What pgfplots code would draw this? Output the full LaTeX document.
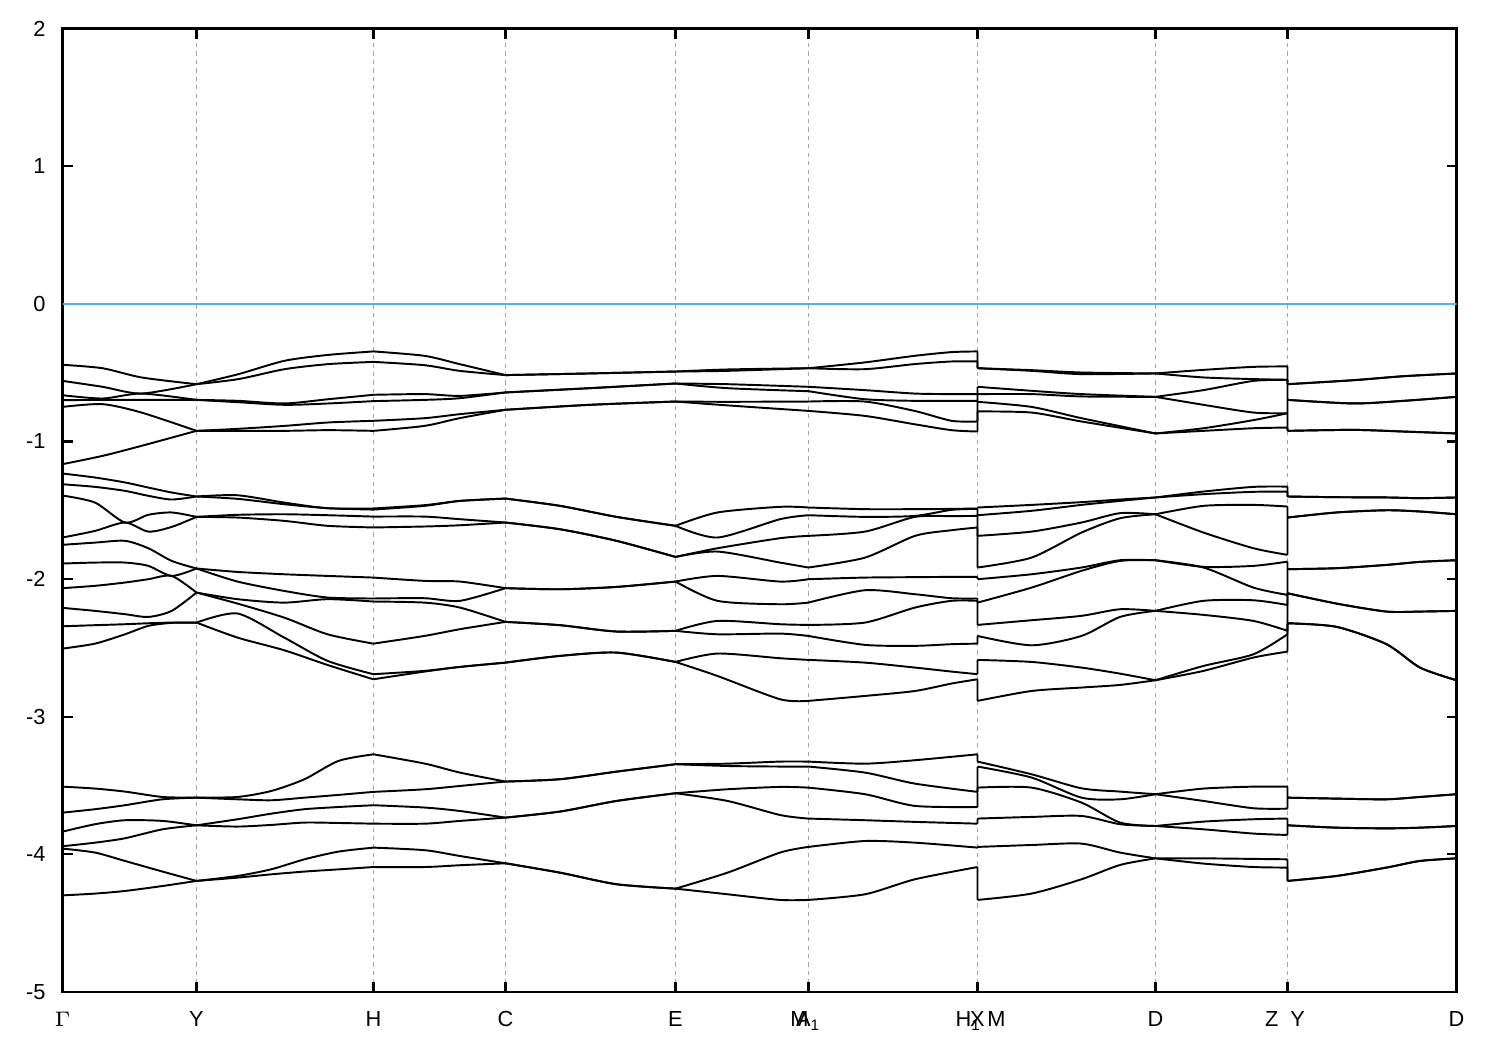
\documentclass[border=0pt]{standalone}
\usepackage{fontspec}
\setmainfont{Liberation Sans}
\usepackage{pgfplots}
\pgfplotsset{compat=1.18}
\usepackage{pgfplotstable}
\definecolor{zeroline}{RGB}{86,180,233}

% band energies (eV); x = distance along the k-path, in plot units
% rows of nan break the curve at the high-symmetry points
\pgfplotstableread{
x b1 b2 b3 b4 b5 b6
0 -0.443 -0.560 -0.664 -0.700 -0.749 -1.165
40 -0.468 -0.603 -0.688 -0.698 -0.729 -1.105
79 -0.535 -0.652 -0.652 -0.698 -0.790 -1.032
134 -0.584 -0.584 -0.698 -0.698 -0.923 -0.923
nan nan nan nan nan nan nan
134 -0.584 -0.584 -0.698 -0.698 -0.923 -0.923
176 -0.511 -0.547 -0.705 -0.715 -0.908 -0.923
222 -0.414 -0.475 -0.724 -0.734 -0.887 -0.923
266 -0.371 -0.438 -0.693 -0.724 -0.862 -0.918
311 -0.346 -0.422 -0.661 -0.707 -0.850 -0.923
nan nan nan nan nan nan nan
311 -0.346 -0.422 -0.661 -0.707 -0.850 -0.923
362 -0.378 -0.446 -0.656 -0.698 -0.831 -0.887
397 -0.438 -0.487 -0.669 -0.686 -0.802 -0.831
443 -0.518 -0.518 -0.644 -0.644 -0.770 -0.770
nan nan nan nan nan nan nan
443 -0.518 -0.518 -0.644 -0.644 -0.770 -0.770
527 -0.506 -0.506 -0.613 -0.613 -0.734 -0.734
613 -0.492 -0.492 -0.579 -0.579 -0.710 -0.710
nan nan nan nan nan nan nan
613 -0.492 -0.492 -0.579 -0.579 -0.710 -0.710
665 -0.477 -0.487 -0.584 -0.613 -0.712 -0.738
746 -0.468 -0.468 -0.603 -0.635 -0.710 -0.778
nan nan nan nan nan nan nan
746 -0.468 -0.468 -0.603 -0.635 -0.710 -0.778
802 -0.426 -0.475 -0.627 -0.693 -0.710 -0.814
852 -0.378 -0.438 -0.652 -0.705 -0.778 -0.875
889 -0.351 -0.419 -0.656 -0.705 -0.850 -0.918
915 -0.346 -0.419 -0.656 -0.705 -0.855 -0.928
nan nan nan nan nan nan nan
915 -0.346 -0.419 -0.656 -0.705 -0.855 -0.928
915 -0.468 -0.468 -0.603 -0.656 -0.712 -0.782
nan nan nan nan nan nan nan
915 -0.468 -0.468 -0.603 -0.656 -0.712 -0.782
969 -0.482 -0.487 -0.632 -0.656 -0.749 -0.790
1019 -0.499 -0.511 -0.656 -0.673 -0.831 -0.855
1093 -0.506 -0.506 -0.676 -0.676 -0.942 -0.942
nan nan nan nan nan nan nan
1093 -0.506 -0.506 -0.676 -0.676 -0.942 -0.942
1141 -0.480 -0.535 -0.627 -0.734 -0.904 -0.923
1191 -0.458 -0.547 -0.560 -0.790 -0.845 -0.904
1225 -0.455 -0.552 -0.552 -0.795 -0.795 -0.899
nan nan nan nan nan nan nan
1225 -0.455 -0.552 -0.552 -0.795 -0.795 -0.899
1225 -0.584 -0.584 -0.698 -0.698 -0.923 -0.923
nan nan nan nan nan nan nan
1225 -0.584 -0.584 -0.698 -0.698 -0.923 -0.923
1291 -0.555 -0.555 -0.724 -0.724 -0.916 -0.916
1341 -0.526 -0.526 -0.705 -0.705 -0.928 -0.928
1394 -0.506 -0.506 -0.676 -0.676 -0.942 -0.942
}\topbands

\pgfplotstableread{
x b1 b2 b3 b4 b5 b6 b7 b8 b9 b10
0 -1.233 -1.311 -1.393 -1.698 -1.751 -1.887 -2.066 -2.209 -2.343 -2.505
32.5 -1.262 -1.330 -1.444 -1.650 -1.735 -1.880 -2.049 -2.231 -2.335 -2.469
62.5 -1.298 -1.359 -1.589 -1.589 -1.722 -1.880 -2.025 -2.255 -2.328 -2.401
85.8 -1.335 -1.395 -1.533 -1.655 -1.776 -1.904 -2.001 -2.275 -2.321 -2.340
109.2 -1.371 -1.422 -1.516 -1.621 -1.868 -1.977 -1.977 -2.231 -2.316 -2.318
134 -1.400 -1.400 -1.548 -1.548 -1.923 -1.923 -2.098 -2.098 -2.316 -2.316
nan nan nan nan nan nan nan nan nan nan nan
134 -1.400 -1.400 -1.548 -1.548 -1.923 -1.923 -2.098 -2.098 -2.316 -2.316
175 -1.391 -1.417 -1.533 -1.553 -1.948 -2.018 -2.146 -2.178 -2.250 -2.425
221.7 -1.444 -1.456 -1.529 -1.577 -1.965 -2.086 -2.171 -2.280 -2.425 -2.517
265 -1.485 -1.485 -1.536 -1.613 -1.977 -2.134 -2.146 -2.401 -2.594 -2.624
310.8 -1.487 -1.495 -1.546 -1.625 -1.989 -2.141 -2.163 -2.469 -2.691 -2.728
nan nan nan nan nan nan nan nan nan nan nan
310.8 -1.487 -1.495 -1.546 -1.625 -1.989 -2.141 -2.163 -2.469 -2.691 -2.728
362 -1.463 -1.468 -1.546 -1.618 -2.013 -2.139 -2.171 -2.413 -2.667 -2.672
397.5 -1.432 -1.432 -1.565 -1.609 -2.018 -2.158 -2.207 -2.364 -2.638 -2.638
443 -1.415 -1.415 -1.589 -1.589 -2.066 -2.066 -2.311 -2.311 -2.607 -2.607
nan nan nan nan nan nan nan nan nan nan nan
443 -1.415 -1.415 -1.589 -1.589 -2.066 -2.066 -2.311 -2.311 -2.607 -2.607
497.5 -1.468 -1.468 -1.638 -1.638 -2.074 -2.074 -2.335 -2.335 -2.558 -2.558
554 -1.548 -1.548 -1.722 -1.722 -2.057 -2.057 -2.381 -2.381 -2.534 -2.534
613 -1.613 -1.613 -1.839 -1.839 -2.018 -2.018 -2.376 -2.376 -2.602 -2.602
nan nan nan nan nan nan nan nan nan nan nan
613 -1.613 -1.613 -1.839 -1.839 -2.018 -2.018 -2.376 -2.376 -2.602 -2.602
655 -1.516 -1.698 -1.776 -1.800 -1.977 -2.158 -2.304 -2.401 -2.541 -2.704
717.5 -1.475 -1.565 -1.703 -1.880 -2.018 -2.183 -2.328 -2.396 -2.575 -2.873
745.8 -1.480 -1.536 -1.686 -1.916 -2.001 -2.171 -2.333 -2.413 -2.587 -2.885
nan nan nan nan nan nan nan nan nan nan nan
745.8 -1.480 -1.536 -1.686 -1.916 -2.001 -2.171 -2.333 -2.413 -2.587 -2.885
802.5 -1.492 -1.548 -1.655 -1.844 -1.989 -2.081 -2.316 -2.478 -2.607 -2.849
852.5 -1.492 -1.541 -1.548 -1.686 -1.986 -2.110 -2.207 -2.485 -2.643 -2.813
889 -1.490 -1.497 -1.543 -1.645 -1.984 -2.139 -2.158 -2.473 -2.672 -2.759
915 -1.487 -1.490 -1.541 -1.625 -1.984 -2.141 -2.158 -2.469 -2.691 -2.728
nan nan nan nan nan nan nan nan nan nan nan
915 -1.487 -1.490 -1.541 -1.625 -1.984 -2.141 -2.158 -2.469 -2.691 -2.728
915 -1.480 -1.536 -1.686 -1.916 -2.001 -2.171 -2.333 -2.413 -2.587 -2.885
nan nan nan nan nan nan nan nan nan nan nan
915 -1.480 -1.536 -1.686 -1.916 -2.001 -2.171 -2.333 -2.413 -2.587 -2.885
969 -1.461 -1.504 -1.655 -1.844 -1.965 -2.062 -2.299 -2.481 -2.602 -2.813
1019 -1.441 -1.461 -1.589 -1.662 -1.916 -1.940 -2.267 -2.413 -2.643 -2.788
1057.5 -1.422 -1.432 -1.521 -1.558 -1.863 -1.868 -2.219 -2.275 -2.687 -2.769
1093 -1.407 -1.407 -1.529 -1.529 -1.863 -1.863 -2.231 -2.231 -2.735 -2.735
nan nan nan nan nan nan nan nan nan nan nan
1093 -1.407 -1.407 -1.529 -1.529 -1.863 -1.863 -2.231 -2.231 -2.735 -2.735
1141 -1.364 -1.383 -1.468 -1.662 -1.911 -1.916 -2.158 -2.260 -2.631 -2.667
1191 -1.330 -1.366 -1.461 -1.776 -1.904 -2.062 -2.154 -2.304 -2.546 -2.570
1225 -1.328 -1.364 -1.473 -1.824 -1.873 -2.115 -2.188 -2.376 -2.401 -2.527
nan nan nan nan nan nan nan nan nan nan nan
1225 -1.328 -1.364 -1.473 -1.824 -1.873 -2.115 -2.188 -2.376 -2.401 -2.527
1225 -1.400 -1.400 -1.553 -1.553 -1.928 -1.928 -2.103 -2.103 -2.321 -2.321
nan nan nan nan nan nan nan nan nan nan nan
1225 -1.400 -1.400 -1.553 -1.553 -1.928 -1.928 -2.103 -2.103 -2.321 -2.321
1274 -1.405 -1.405 -1.516 -1.516 -1.921 -1.921 -2.178 -2.178 -2.347 -2.347
1324 -1.407 -1.407 -1.500 -1.500 -1.897 -1.897 -2.236 -2.236 -2.473 -2.473
1357.5 -1.412 -1.412 -1.509 -1.509 -1.875 -1.875 -2.236 -2.236 -2.643 -2.643
1394 -1.407 -1.407 -1.529 -1.529 -1.863 -1.863 -2.231 -2.231 -2.735 -2.735
}\midbands

\pgfplotstableread{
x b1 b2 b3 b4 b5 b6
0 -3.508 -3.697 -3.835 -3.941 -3.958 -4.298
32.5 -3.522 -3.672 -3.781 -3.915 -3.987 -4.285
62.5 -3.544 -3.643 -3.752 -3.883 -4.048 -4.266
100 -3.583 -3.600 -3.757 -3.818 -4.125 -4.230
134 -3.588 -3.588 -3.789 -3.789 -4.193 -4.193
nan nan nan nan nan nan nan
134 -3.588 -3.588 -3.789 -3.789 -4.193 -4.193
175 -3.583 -3.600 -3.745 -3.798 -4.157 -4.169
209 -3.539 -3.607 -3.704 -3.786 -4.108 -4.145
242 -3.454 -3.588 -3.672 -3.769 -4.036 -4.125
276 -3.321 -3.568 -3.656 -3.772 -3.980 -4.109
311 -3.273 -3.546 -3.643 -3.777 -3.951 -4.092
nan nan nan nan nan nan nan
311 -3.273 -3.546 -3.643 -3.777 -3.951 -4.092
362.5 -3.341 -3.527 -3.660 -3.777 -3.970 -4.092
397.5 -3.406 -3.503 -3.685 -3.757 -4.012 -4.079
443 -3.471 -3.471 -3.733 -3.733 -4.065 -4.065
nan nan nan nan nan nan nan
443 -3.471 -3.471 -3.733 -3.733 -4.065 -4.065
497.5 -3.454 -3.454 -3.689 -3.689 -4.133 -4.133
554 -3.399 -3.399 -3.612 -3.612 -4.217 -4.217
613 -3.345 -3.345 -3.556 -3.556 -4.249 -4.249
nan nan nan nan nan nan nan
613 -3.345 -3.345 -3.556 -3.556 -4.249 -4.249
665 -3.341 -3.358 -3.527 -3.612 -4.133 -4.290
717.5 -3.326 -3.362 -3.510 -3.714 -3.987 -4.331
745.8 -3.326 -3.362 -3.515 -3.740 -3.946 -4.331
nan nan nan nan nan nan nan
745.8 -3.326 -3.362 -3.515 -3.740 -3.946 -4.331
802.5 -3.341 -3.406 -3.563 -3.752 -3.903 -4.290
852.5 -3.316 -3.486 -3.648 -3.764 -3.915 -4.181
915 -3.273 -3.546 -3.656 -3.777 -3.951 -4.092
nan nan nan nan nan nan nan
915 -3.273 -3.546 -3.656 -3.777 -3.951 -4.092
915 -3.326 -3.362 -3.515 -3.740 -3.946 -4.331
nan nan nan nan nan nan nan
915 -3.326 -3.362 -3.515 -3.740 -3.946 -4.331
969 -3.418 -3.442 -3.515 -3.728 -3.932 -4.285
1019 -3.520 -3.588 -3.624 -3.721 -3.922 -4.181
1057.5 -3.544 -3.600 -3.769 -3.781 -3.987 -4.077
1093 -3.563 -3.563 -3.794 -3.794 -4.029 -4.029
nan nan nan nan nan nan nan
1093 -3.563 -3.563 -3.794 -3.794 -4.029 -4.029
1141 -3.522 -3.612 -3.762 -3.818 -4.029 -4.067
1191 -3.508 -3.665 -3.745 -3.849 -4.033 -4.092
1225 -3.508 -3.668 -3.740 -3.859 -4.036 -4.096
nan nan nan nan nan nan nan
1225 -3.508 -3.668 -3.740 -3.859 -4.036 -4.096
1225 -3.588 -3.588 -3.789 -3.789 -4.193 -4.193
nan nan nan nan nan nan nan
1225 -3.588 -3.588 -3.789 -3.789 -4.193 -4.193
1274 -3.595 -3.595 -3.806 -3.806 -4.157 -4.157
1324 -3.600 -3.600 -3.811 -3.811 -4.096 -4.096
1357.5 -3.583 -3.583 -3.806 -3.806 -4.048 -4.048
1394 -3.563 -3.563 -3.794 -3.794 -4.029 -4.029
}\lowbands

\begin{document}
\begin{tikzpicture}
\useasboundingbox (-6.25mm,-5.8mm) rectangle (143.75mm,99.2mm);
\begin{axis}[
    at={(0,0)}, anchor=south west,
    scale only axis,
    width=139.4mm, height=96.35mm,
    xmin=0, xmax=1394, ymin=-5, ymax=2,
    axis line style={black, line width=0.6pt},
    tick align=inside,
    major tick length=1mm,
    tick style={black, line width=0.6pt},
    xtick={0,134,311,443,613,746,915,1093,1225,1394},
    xticklabels={$\Gamma$, Y, H, C, E,
        {\makebox[0pt][r]{M}\makebox[0pt]{A\textsubscript{1}}},
        {\makebox[0pt][r]{H\textsubscript{1}\kern-0.4mm}\makebox[0pt]{X}\makebox[0pt][l]{\kern1mm M}},
        D,
        {\makebox[0pt][r]{Z\kern0.9mm}\makebox[0pt][l]{\kern0.3mm Y}},
        D},
    ytick={-5,-4,-3,-2,-1,0,1,2},
    yticklabels={-5,-4,-3,-2,-1,0,1,2},
    ticklabel style={font=\fontsize{6.2}{7}\selectfont},
    xticklabel style={anchor=base, yshift=-3.5mm},
    yticklabel style={anchor=east, xshift=-0.45mm},
    xmajorgrids,
    grid style={gray!70, line width=0.3pt, dash pattern=on 1.2pt off 1.2pt},
    unbounded coords=jump,
    band/.style={black, line width=0.55pt, line join=round, smooth, tension=0.45},
]
\addplot[zeroline, line width=0.55pt] coordinates {(0,0) (1394,0)};
\pgfplotsinvokeforeach{1,...,6}{
  \addplot[band] table[x=x, y=b#1] {\topbands};
  \addplot[band] table[x=x, y=b#1] {\lowbands};
}
\pgfplotsinvokeforeach{1,...,10}{
  \addplot[band] table[x=x, y=b#1] {\midbands};
}
\end{axis}
\end{tikzpicture}
\end{document}
